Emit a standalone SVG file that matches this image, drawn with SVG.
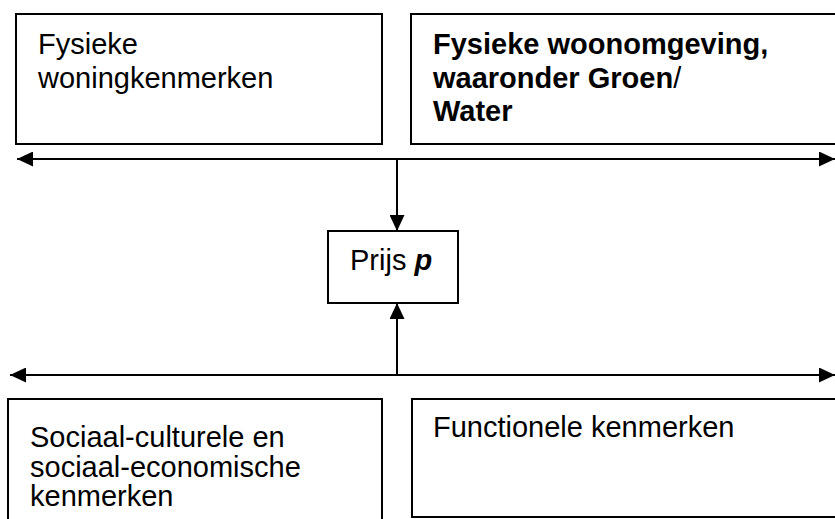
<svg xmlns="http://www.w3.org/2000/svg" width="835" height="519" viewBox="0 0 835 519">
<style>
.box{fill:#fff;stroke:#000;stroke-width:2}
.t{font-family:"Liberation Sans",Arial,sans-serif;font-size:29px;fill:#000}
.b{font-weight:bold}
.c{stroke:#000;stroke-width:2;fill:none}
</style>
<defs>
<marker id="ah" markerWidth="16" markerHeight="15" refX="16" refY="7.5" orient="auto" markerUnits="userSpaceOnUse">
<path d="M0,0 L16,7.5 L0,15 Z" fill="#000"/>
</marker>
</defs>
<rect width="835" height="519" fill="#fff"/>
<g id="n1">
<rect class="box" x="16" y="14" width="366" height="130"/>
<text class="t" x="38" y="54">Fysieke</text>
<text class="t" x="38" y="87.5">woningkenmerken</text>
</g>
<g id="n2">
<rect class="box" x="411" y="14" width="440" height="130"/>
<text class="t b" x="433" y="54">Fysieke woonomgeving,</text>
<text class="t" x="433" y="87.5"><tspan class="b">waaronder Groen</tspan>/</text>
<text class="t b" x="433" y="121">Water</text>
</g>
<g id="n3">
<rect class="box" x="328" y="231" width="130" height="72"/>
<text class="t" x="350" y="270">Prijs <tspan font-weight="bold" font-style="italic">p</tspan></text>
</g>
<g id="n4">
<rect class="box" x="8" y="399" width="374" height="130"/>
<text class="t" x="30" y="447">Sociaal-culturele en</text>
<text class="t" x="30" y="477">sociaal-economische</text>
<text class="t" x="30" y="506">kenmerken</text>
</g>
<g id="n5">
<rect class="box" x="412" y="399" width="440" height="118"/>
<text class="t" x="433" y="437">Functionele kenmerken</text>
</g>
<g id="connectors">
<line class="c" x1="397" y1="159" x2="17" y2="159" marker-end="url(#ah)"/>
<line class="c" x1="397" y1="159" x2="835" y2="159" marker-end="url(#ah)"/>
<line class="c" x1="397" y1="159" x2="397" y2="231" marker-end="url(#ah)"/>
<line class="c" x1="397" y1="375" x2="10" y2="375" marker-end="url(#ah)"/>
<line class="c" x1="397" y1="375" x2="835" y2="375" marker-end="url(#ah)"/>
<line class="c" x1="397" y1="375" x2="397" y2="303" marker-end="url(#ah)"/>
</g>
</svg>
